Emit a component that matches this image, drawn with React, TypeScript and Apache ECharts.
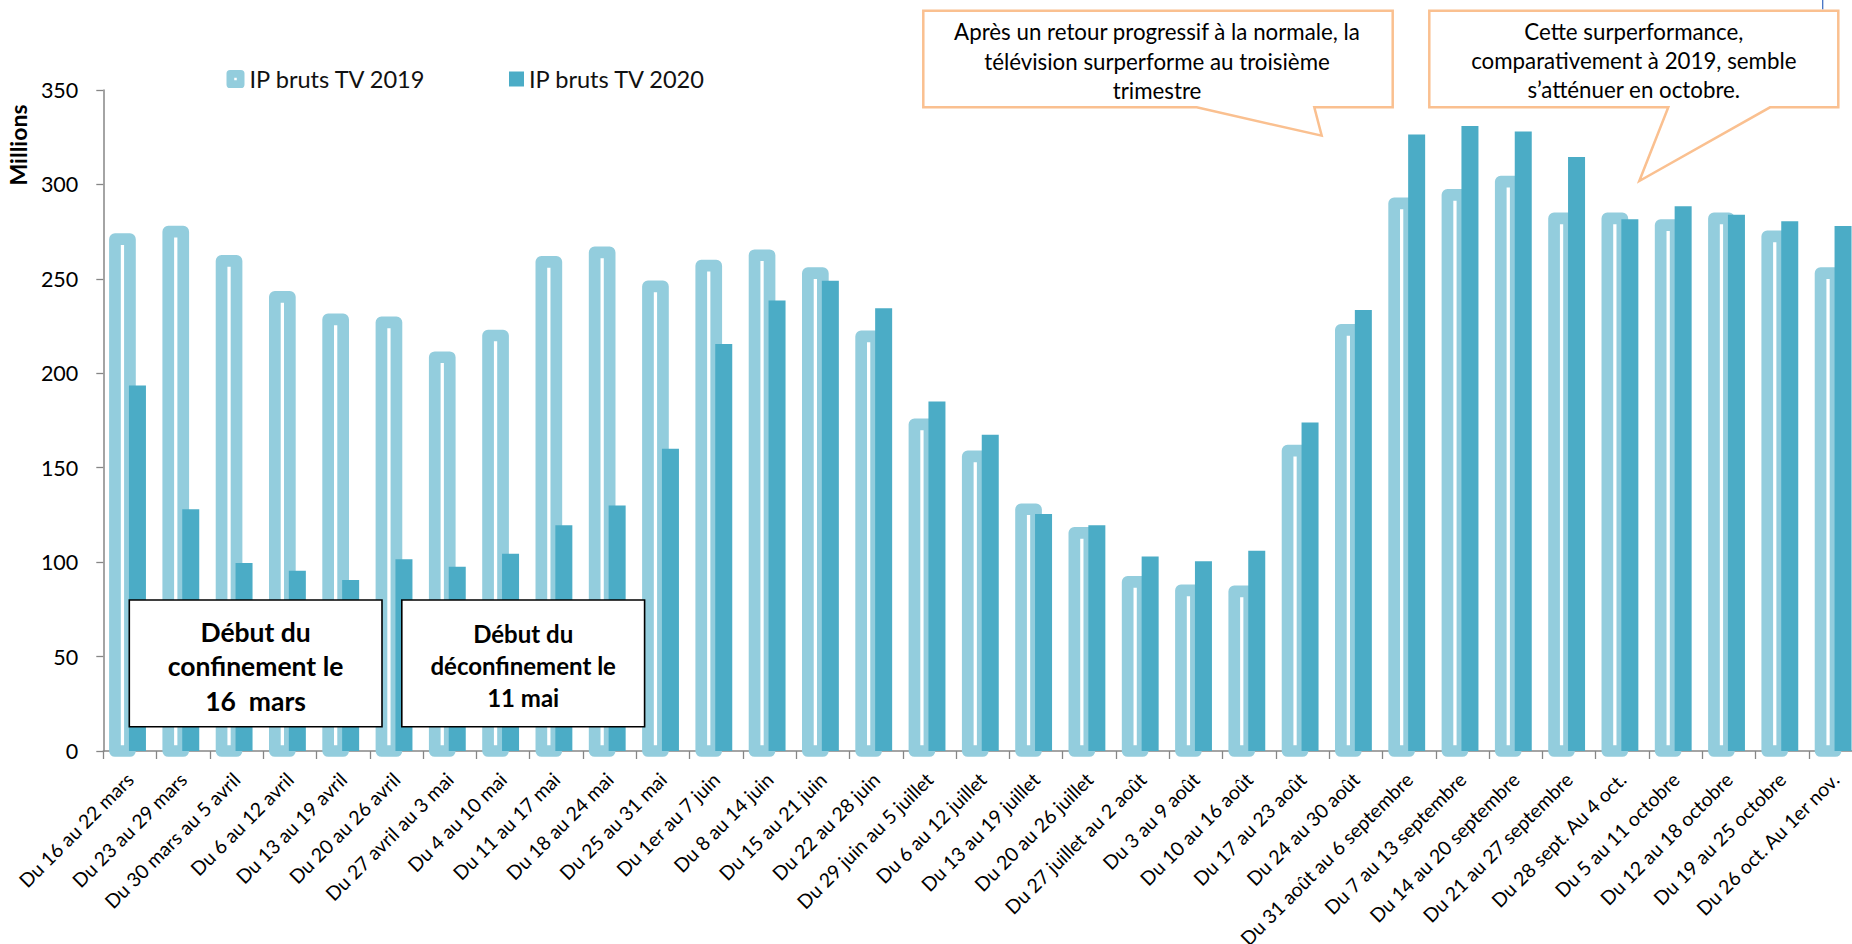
import React, { useEffect, useRef } from "react";
import * as echarts from "echarts";

// Weekly gross TV impressions (IP bruts), in millions
const categories = [
  "Du 16 au 22 mars",
  "Du 23 au 29 mars",
  "Du 30 mars au 5 avril",
  "Du 6 au 12 avril",
  "Du 13 au 19 avril",
  "Du 20 au 26 avril",
  "Du 27 avril au 3 mai",
  "Du 4 au 10 mai",
  "Du 11 au 17 mai",
  "Du 18 au 24 mai",
  "Du 25 au 31 mai",
  "Du 1er au 7 juin",
  "Du 8 au 14 juin",
  "Du 15 au 21 juin",
  "Du 22 au 28 juin",
  "Du 29 juin au 5 juillet",
  "Du 6 au 12 juillet",
  "Du 13 au 19 juillet",
  "Du 20 au 26 juillet",
  "Du 27 juillet au 2 août",
  "Du 3 au 9 août",
  "Du 10 au 16 août",
  "Du 17 au 23 août",
  "Du 24 au 30 août",
  "Du 31 août au 6 septembre",
  "Du 7 au 13 septembre",
  "Du 14 au 20 septembre",
  "Du 21 au 27 septembre",
  "Du 28 sept. Au 4 oct.",
  "Du 5 au 11 octobre",
  "Du 12 au 18 octobre",
  "Du 19 au 25 octobre",
  "Du 26 oct. Au 1er nov.",
];

const ip2019 = [
  271, 275, 259.5, 240.5, 228.5, 227, 208.5, 220, 259, 264, 246, 257, 262.5,
  253, 219.5, 173, 156, 128, 115.5, 89.5, 85, 84.5, 159, 223, 290, 294.5,
  301.5, 282, 282, 278.5, 282, 272.5, 253,
];

const ip2020 = [
  193.5, 128, 99.5, 95.5, 90.5, 101.5, 97.5, 104.5, 119.5, 130, 160, 215.5,
  238.5, 249, 234.5, 185, 167.5, 125.5, 119.5, 103, 100.5, 106, 174, 233.5,
  326.5, 331, 328, 314.5, 281.5, 288.5, 284, 280.5, 278,
];

const seriesNames = ["IP bruts TV 2019", "IP bruts TV 2020"];
const yTickMax = 350;
const yTickStep = 50;

const noteConfinement = "Début du\nconfinement le\n16  mars";
const noteDeconfinement = "Début du\ndéconfinement le\n11 mai";
const calloutQ3 =
  "Après un retour progressif à la normale, la\ntélévision surperforme au troisième\ntrimestre";
const calloutOct =
  "Cette surperformance,\ncomparativement à 2019, semble\ns’atténuer en octobre.";

const FONT = "Lato, 'Open Sans', sans-serif";
const LIGHT = "#93CDDD";
const TEAL = "#4BACC6";
const AXIS = "#868686";
const ORANGE = "#FAC090";

// Bar geometry as fractions of the category band
const OFFSET_FRAC = 0.1407; // each series' centre sits this far from the band centre
const W2019_FRAC = 0.281; // outlined 2019 column (stroke centred on its edge)
const W2020_FRAC = 0.319;
const OUTLINE = 11.7;

// rounded square with a small hole in the middle
const ICON_2019 =
  "path://M4,0H16Q20,0,20,4V16Q20,20,16,20H4Q0,20,0,16V4Q0,0,4,0ZM8.6,8.6V11.4H11.4V8.6Z";

function barRenderer(kind: "2019" | "2020") {
  return (_params: any, api: any) => {
    const idx = api.value(0);
    const val = api.value(1);
    const top = api.coord([idx, val]);
    const base = api.coord([idx, 0]);
    const band = api.size([1, 0])[0];
    if (kind === "2019") {
      const w = band * W2019_FRAC;
      const cx = top[0] - band * OFFSET_FRAC;
      return {
        type: "rect",
        shape: { x: cx - w / 2, y: top[1], width: w, height: base[1] - top[1] },
        style: { fill: "#ffffff", stroke: LIGHT, lineWidth: OUTLINE, lineJoin: "round" },
      };
    }
    const w = band * W2020_FRAC;
    const cx = top[0] + band * OFFSET_FRAC;
    return {
      type: "rect",
      shape: { x: cx - w / 2, y: top[1], width: w, height: base[1] - top[1] },
      style: { fill: TEAL },
    };
  };
}

export default function App() {
  const ref = useRef<HTMLDivElement>(null);

  useEffect(() => {
    if (!ref.current) return;
    const chart = echarts.init(ref.current, null, { renderer: "svg" });

    const option: any = {
      animation: false,
      backgroundColor: "#ffffff",
      textStyle: { fontFamily: FONT },
      grid: {
        left: 103.3,
        right: -10.2,
        top: 90,
        bottom: 193,
        containLabel: false,
        outerBoundsMode: "none",
      },
      legend: [
        {
          left: 221.5,
          top: 62,
          itemWidth: 18,
          itemHeight: 21,
          selectedMode: false,
          textStyle: { fontFamily: FONT, fontSize: 23.6, color: "#111" },
          data: [
            {
              name: seriesNames[0],
              icon: ICON_2019,
              itemStyle: { color: LIGHT, borderWidth: 0 },
            },
          ],
        },
        {
          left: 504,
          top: 62,
          itemWidth: 15,
          itemHeight: 15,
          selectedMode: false,
          textStyle: { fontFamily: FONT, fontSize: 23.6, color: "#111" },
          data: [
            {
              name: seriesNames[1],
              icon: "rect",
              itemStyle: { color: TEAL, borderWidth: 0 },
            },
          ],
        },
      ],
      xAxis: {
        type: "category",
        data: categories,
        boundaryGap: true,
        axisLine: { show: true, lineStyle: { color: AXIS, width: 1.5 } },
        axisTick: { show: true, length: 8, lineStyle: { color: AXIS, width: 1.3 } },
        axisLabel: {
          interval: 0,
          rotate: 45,
          margin: 25,
          fontFamily: FONT,
          fontSize: 19.5,
          color: "#000",
        },
        splitLine: { show: false },
      },
      yAxis: {
        type: "value",
        min: 0,
        max: yTickMax,
        interval: yTickStep,
        axisLine: { show: true, lineStyle: { color: AXIS, width: 1.5 } },
        axisTick: { show: true, length: 7, lineStyle: { color: AXIS, width: 1.3 } },
        axisLabel: { margin: 25, fontFamily: FONT, fontSize: 21.5, color: "#000" },
        splitLine: { show: false },
      },
      series: [
        {
          name: seriesNames[0],
          type: "custom",
          renderItem: barRenderer("2019"),
          encode: { x: 0, y: 1 },
          itemStyle: { color: LIGHT },
          data: ip2019.map((v, i) => [i, v]),
          z: 2,
        },
        {
          name: seriesNames[1],
          type: "custom",
          renderItem: barRenderer("2020"),
          encode: { x: 0, y: 1 },
          itemStyle: { color: TEAL },
          data: ip2020.map((v, i) => [i, v]),
          z: 3,
        },
      ],
      graphic: [
        {
          type: "text",
          x: 18,
          y: 145,
          rotation: Math.PI / 2,
          z: 100,
          style: {
            text: "Millions",
            fontFamily: FONT,
            fontWeight: "bold",
            fontSize: 23,
            fill: "#000",
            textAlign: "center",
            textVerticalAlign: "middle",
          },
        },
        {
          type: "rect",
          z: 100,
          shape: { x: 129.3, y: 600, width: 252.7, height: 126.7 },
          style: { fill: "#fff", stroke: "#000", lineWidth: 1.6 },
        },
        {
          type: "text",
          z: 101,
          x: 255.6,
          y: 666,
          style: {
            text: noteConfinement,
            fontFamily: FONT,
            fontWeight: "bold",
            fontSize: 26.5,
            lineHeight: 34.5,
            fill: "#000",
            textAlign: "center",
            textVerticalAlign: "middle",
          },
        },
        {
          type: "rect",
          z: 100,
          shape: { x: 401.8, y: 600, width: 242.8, height: 126.7 },
          style: { fill: "#fff", stroke: "#000", lineWidth: 1.6 },
        },
        {
          type: "text",
          z: 101,
          x: 523.2,
          y: 665,
          style: {
            text: noteDeconfinement,
            fontFamily: FONT,
            fontWeight: "bold",
            fontSize: 24,
            lineHeight: 32,
            fill: "#000",
            textAlign: "center",
            textVerticalAlign: "middle",
          },
        },
        {
          type: "polygon",
          z: 100,
          shape: {
            points: [
              [923.3, 10.7],
              [1392.7, 10.7],
              [1392.7, 107.3],
              [1314.3, 107.3],
              [1321.7, 135.7],
              [1196.7, 107.3],
              [923.3, 107.3],
            ],
          },
          style: { fill: "#fff", stroke: ORANGE, lineWidth: 2.5, lineJoin: "miter" },
        },
        {
          type: "text",
          z: 101,
          x: 1157,
          y: 61,
          style: {
            text: calloutQ3,
            fontFamily: FONT,
            fontSize: 22.3,
            lineHeight: 29.3,
            fill: "#000",
            textAlign: "center",
            textVerticalAlign: "middle",
          },
        },
        {
          type: "polygon",
          z: 100,
          shape: {
            points: [
              [1429.3, 10.7],
              [1838.3, 10.7],
              [1838.3, 107.3],
              [1770, 107.3],
              [1639.3, 181],
              [1668.3, 107.3],
              [1429.3, 107.3],
            ],
          },
          style: { fill: "#fff", stroke: ORANGE, lineWidth: 2.5, lineJoin: "miter" },
        },
        {
          type: "text",
          z: 101,
          x: 1633.8,
          y: 60.5,
          style: {
            text: calloutOct,
            fontFamily: FONT,
            fontSize: 22.3,
            lineHeight: 28.8,
            fill: "#000",
            textAlign: "center",
            textVerticalAlign: "middle",
          },
        },
        {
          type: "line",
          z: 100,
          shape: { x1: 1822.7, y1: 0, x2: 1822.7, y2: 9.3 },
          style: { stroke: "#4472C4", lineWidth: 1.3 },
        },
      ],
    };

    chart.setOption(option);
    return () => chart.dispose();
  }, []);

  return (
    <div
      ref={ref}
      style={{ position: "fixed", left: 0, top: 0, width: 1852, height: 944, background: "#fff" }}
    />
  );
}
